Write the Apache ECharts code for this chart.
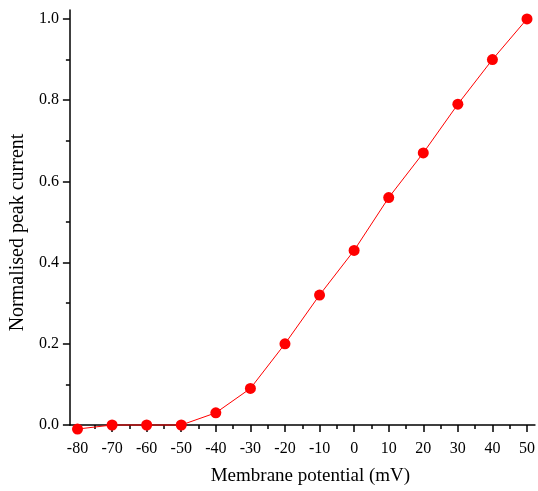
<!DOCTYPE html>
<html>
<head>
<meta charset="utf-8">
<script src="https://cdn.jsdelivr.net/npm/echarts@6/dist/echarts.min.js"></script>
<style>
  html, body { margin: 0; padding: 0; background: #fff; }
  #chart { width: 538px; height: 491px; }
</style>
</head>
<body>
<div id="chart"></div>
<script>
  // data
  const voltages = [-80, -70, -60, -50, -40, -30, -20, -10, 0, 10, 20, 30, 40, 50];
  const current = [-0.01, 0, 0, 0, 0.03, 0.09, 0.20, 0.32, 0.43, 0.56, 0.67, 0.79, 0.90, 1.00];
  const xMajor = [-80, -70, -60, -50, -40, -30, -20, -10, 0, 10, 20, 30, 40, 50];
  const xMinor = [-75, -65, -55, -45, -35, -25, -15, -5, 5, 15, 25, 35, 45];
  const yMajor = [0, 0.2, 0.4, 0.6, 0.8, 1.0];
  const yMinor = [0.1, 0.3, 0.5, 0.7, 0.9];

  const font = "'Liberation Serif', 'Times New Roman', serif";
  const ink = "#000";
  const red = "#ff0000";
  const X_MIN = -82.2, X_MAX = 52.3, Y_MIN = 0, Y_MAX = 1.022;

  const hidden = { show: false };
  const chart = echarts.init(document.getElementById("chart"), null, { renderer: "canvas" });
  chart.setOption({
    animation: false,
    backgroundColor: "#fff",
    grid: { left: 69, right: 1, top: 10, bottom: 66, containLabel: false },
    xAxis: [
      {
        type: "value", min: X_MIN, max: X_MAX, position: "bottom",
        name: "Membrane potential (mV)", nameLocation: "middle", nameGap: 42,
        nameTextStyle: { color: ink, fontFamily: font, fontSize: 19, padding: [0, 0, 0, 16] },
        axisLine: { show: true, onZero: false, lineStyle: { color: ink, width: 1.5 } },
        axisTick: { show: true, inside: false, length: 7, customValues: xMajor, lineStyle: { color: ink, width: 1.5 } },
        axisLabel: { show: true, customValues: xMajor, margin: 16, color: ink, fontFamily: font, fontSize: 16 },
        splitLine: hidden
      },
      {
        type: "value", min: X_MIN, max: X_MAX, position: "bottom",
        axisLine: { show: false, onZero: false },
        axisTick: { show: true, length: 4, customValues: xMinor, lineStyle: { color: ink, width: 1.5 } },
        axisLabel: hidden, splitLine: hidden
      }
    ],
    yAxis: [
      {
        type: "value", min: Y_MIN, max: Y_MAX, position: "left",
        name: "Normalised peak current", nameLocation: "middle", nameGap: 39,
        nameTextStyle: { color: ink, fontFamily: font, fontSize: 20, padding: [0, 30, 0, 0] },
        axisLine: { show: true, onZero: false, lineStyle: { color: ink, width: 1.5 } },
        axisTick: { show: true, length: 7, customValues: yMajor, lineStyle: { color: ink, width: 1.5 } },
        axisLabel: { show: true, customValues: yMajor, margin: 11, color: ink, fontFamily: font, fontSize: 16,
          formatter: (v) => Number(v).toFixed(1) },
        splitLine: hidden
      },
      {
        type: "value", min: Y_MIN, max: Y_MAX, position: "left",
        axisLine: { show: false, onZero: false },
        axisTick: { show: true, length: 4, customValues: yMinor, lineStyle: { color: ink, width: 1.5 } },
        axisLabel: hidden, splitLine: hidden
      }
    ],
    series: [{
      type: "line", xAxisIndex: 0, yAxisIndex: 0, clip: false,
      data: voltages.map((v, i) => [v, current[i]]),
      symbol: "circle", symbolSize: 11,
      lineStyle: { color: red, width: 1 },
      itemStyle: { color: red }
    }]
  });
</script>
</body>
</html>
